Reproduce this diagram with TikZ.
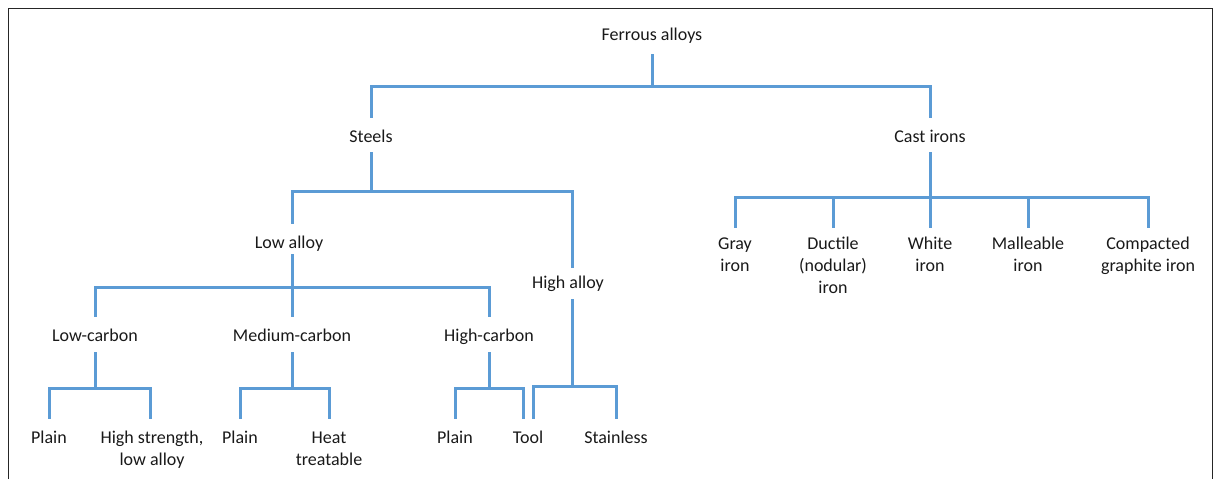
\documentclass[tikz,border=0pt]{standalone}
\usepackage{fontspec}
\setmainfont{Carlito}
\definecolor{lineblue}{RGB}{91,155,213}
\definecolor{txt}{RGB}{25,25,25}
\begin{document}
\begin{tikzpicture}[x=1pt,y=-1pt,
  lblbase/.style={font=\fontsize{18}{22}\selectfont, text=txt, align=center, inner xsep=1pt, inner ysep=0pt, anchor=north},
  lbl/.style={lblbase, text height=13pt, text depth=4pt},
  lblm/.style={lblbase},
  conn/.style={draw=lineblue, line width=3pt, line join=miter},
  framing/.style={draw=black!85, line width=1.5pt}]
\useasboundingbox (0,0) rectangle (1214,479);
\draw[framing] (8.5,479) -- (8.5,8.5) -- (1212.5,8.5) -- (1212.5,479);

% nodes
\node[lbl] (fa) at (652,27) {Ferrous alloys};
\node[lbl] (st) at (371,129) {Steels};
\node[lbl] (ci) at (930,129) {Cast irons};
\node[lbl] (la) at (289,235) {Low alloy};
\node[lbl] (ha) at (568,275) {High alloy};
\node[lbl] (lc) at (95,328) {Low-carbon};
\node[lbl] (mc) at (292,328) {Medium-carbon};
\node[lbl] (hc) at (489,328) {High-carbon};
\node[lbl] (p1) at (49,430) {Plain};
\node[lblm] (hs) at (152,430) {\rule{0pt}{13pt}High strength,\\low alloy};
\node[lbl] (p2) at (240,430) {Plain};
\node[lblm] (ht) at (329,430) {\rule{0pt}{13pt}Heat\\treatable};
\node[lbl] (p3) at (455,430) {Plain};
\node[lbl] (tool) at (528,430) {Tool};
\node[lbl] (sta) at (616,430) {Stainless};
\node[lblm] (gray) at (735,236) {\rule{0pt}{13pt}Gray\\iron};
\node[lblm] (duc) at (833,236) {\rule{0pt}{13pt}Ductile\\(nodular)\\iron};
\node[lblm] (white) at (930,236) {\rule{0pt}{13pt}White\\iron};
\node[lblm] (mal) at (1028,236) {\rule{0pt}{13pt}Malleable\\iron};
\node[lblm] (cgi) at (1148,236) {\rule{0pt}{13pt}Compacted\\graphite iron};

% connectors
\draw[conn] ([yshift=-10pt]fa.south) -- ++(0,32) -| ([yshift=11pt]st.north);
\draw[conn] ([yshift=-10pt]fa.south) -- ++(0,32) -| ([yshift=11pt]ci.north);

\draw[conn] ([yshift=-6pt]st.south) -- ++(0,39) -| ([xshift=3pt,yshift=11pt]la.north);
\draw[conn] ([yshift=-6pt]st.south) -- ++(0,39) -| ([xshift=4pt,yshift=7pt]ha.north);

\foreach \c in {gray,duc,white,mal,cgi}
  \draw[conn] ([yshift=-6pt]ci.south) -- ++(0,45) -| ([yshift=8pt]\c.north);

\foreach \c in {lc,mc,hc}
  \draw[conn] ([xshift=3pt,yshift=-2pt]la.south) -- ++(0,33) -| ([yshift=11pt]\c.north);

\draw[conn] ([yshift=-7pt]lc.south) -- ++(0,36) -| ([yshift=11pt]p1.north);
\draw[conn] ([yshift=-7pt]lc.south) -- ++(0,36) -| ([xshift=-2pt,yshift=11pt]hs.north);

\draw[conn] ([yshift=-7pt]mc.south) -- ++(0,36) -| ([yshift=11pt]p2.north);
\draw[conn] ([yshift=-7pt]mc.south) -- ++(0,36) -| ([yshift=11pt]ht.north);

\draw[conn] ([yshift=-7pt]hc.south) -- ++(0,36) -| ([yshift=11pt]p3.north);
\draw[conn] ([yshift=-7pt]hc.south) -- ++(0,36) -| ([xshift=-5pt,yshift=11pt]tool.north);

\draw[conn] ([xshift=4pt,yshift=-7pt]ha.south) -- ++(0,87) -| ([xshift=5pt,yshift=11pt]tool.north);
\draw[conn] ([xshift=4pt,yshift=-7pt]ha.south) -- ++(0,87) -| ([yshift=11pt]sta.north);
\end{tikzpicture}
\end{document}
